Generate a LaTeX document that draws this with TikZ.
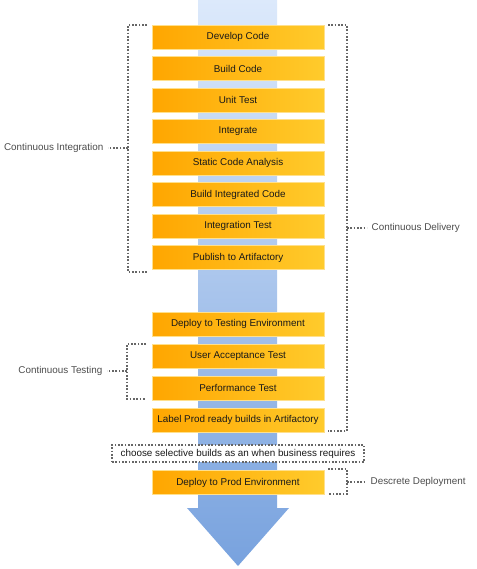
\documentclass[tikz,border=0pt]{standalone}
\usepackage{fontspec}
\setmainfont{Liberation Sans}
\begin{document}
\begin{tikzpicture}[x=0.75pt,y=-0.75pt,
  stagebox/.style={minimum width=129pt,minimum height=18pt,inner sep=0pt,
    left color=boxL,right color=boxR,draw=boxB,line width=0.5pt,
    font=\fontsize{7.4pt}{8pt}\selectfont,text=black!90},
  sidelabel/.style={font=\fontsize{7.4pt}{8pt}\selectfont,text=black!70,inner sep=1pt,outer sep=2.5pt},
  dotline/.style={draw=black!60,line width=0.8pt,dash pattern=on 1.2pt off 1.3pt},
  notebox/.style={dotline,minimum width=189pt,minimum height=12.75pt,inner sep=0pt,
    font=\fontsize{7.4pt}{8pt}\selectfont,text=black!90,fill=white}]
\definecolor{boxL}{HTML}{FFA600}
\definecolor{boxR}{HTML}{FFCB2C}
\definecolor{boxB}{HTML}{FFE08C}
\definecolor{shaftT}{HTML}{DCE9FB}
\definecolor{shaftB}{HTML}{78A2DE}
\useasboundingbox (0,0) rectangle (476,569);
% arrow
\shade[top color=shaftT,bottom color=shaftB]
  (198,0) -- (277,0) -- (277,508) -- (289,508) -- (238,566) -- (187,508) -- (198,508) -- cycle;
% boxes
\node[stagebox] (b1) at (238,37) {Develop Code};
\node[stagebox] (b2) at (238,68.5) {Build Code};
\node[stagebox] (b3) at (238,100) {Unit Test};
\node[stagebox] (b4) at (238,131.5) {Integrate};
\node[stagebox] (b5) at (238,163) {Static Code Analysis};
\node[stagebox] (b6) at (238,194.5) {Build Integrated Code};
\node[stagebox] (b7) at (238,226) {Integration Test};
\node[stagebox] (b8) at (238,257.5) {Publish to Artifactory};
\node[stagebox] (b9) at (238,324) {Deploy to Testing Environment};
\node[stagebox] (b10) at (238,356) {User Acceptance Test};
\node[stagebox] (b11) at (238,388) {Performance Test};
\node[stagebox] (b12) at (238,420) {Label Prod ready builds in Artifactory};
\node[notebox] (note) at (238,453.5) {choose selective builds as an when business requires};
\node[stagebox] (b13) at (238,482.5) {Deploy to Prod Environment};
% labels
\node[sidelabel,anchor=east] (ci) at (108,148) {Continuous Integration};
\node[sidelabel,anchor=east] (ct) at (107,371) {Continuous Testing};
\node[sidelabel,anchor=west] (cd) at (367,228) {Continuous Delivery};
\node[sidelabel,anchor=west] (dd) at (366,482) {Descrete Deployment};
% bracket coordinates
\coordinate (ciT) at (147,25); \coordinate (ciB) at (147,272); \coordinate (ciM) at (128,148);
\coordinate (cdT) at (328,25); \coordinate (cdB) at (328,431); \coordinate (cdM) at (347,228);
\coordinate (ctT) at (146,344); \coordinate (ctB) at (146,399); \coordinate (ctM) at (127,371);
\coordinate (ddT) at (328,469); \coordinate (ddB) at (328,494); \coordinate (ddM) at (347,482);
% brackets
\draw[dotline] (ciT) -- (128,25) -- (128,272) -- (ciB);
\draw[dotline] (ciM) -- (ci.east);
\draw[dotline] (cdT) -- (347,25) -- (347,431) -- (cdB);
\draw[dotline] (cdM) -- (cd.west);
\draw[dotline] (ctT) -- (127,344) -- (127,399) -- (ctB);
\draw[dotline] (ctM) -- (ct.east);
\draw[dotline] (ddT) -- (347,469) -- (347,494) -- (ddB);
\draw[dotline] (ddM) -- (dd.west);
\end{tikzpicture}
\end{document}
